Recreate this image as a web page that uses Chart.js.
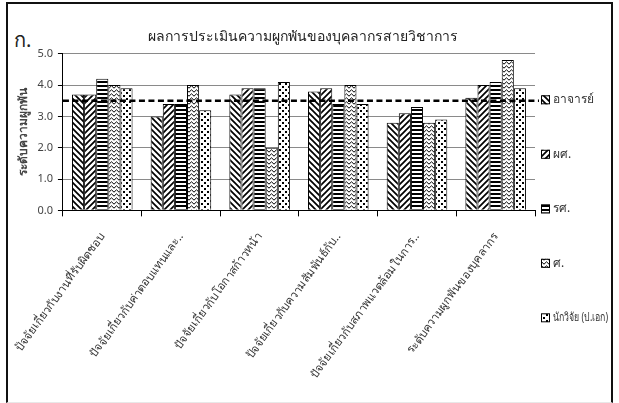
<!DOCTYPE html>
<html><head><meta charset="utf-8">
<script src="https://cdn.jsdelivr.net/npm/chart.js@4.4.0/dist/chart.umd.min.js"></script>
<style>
html,body{margin:0;padding:0;background:#fff;}
#frame{position:absolute;left:6px;top:2px;width:603px;height:398px;border-left:2px solid #111;border-top:2px solid #111;border-right:2px solid #111;border-bottom:1px solid #e8e8e8;}
#wrap{position:absolute;left:9px;top:5px;width:600px;height:394px;}
#letter{position:absolute;left:14px;top:24px;font:20px "Noto Sans",sans-serif;color:#222;}
</style></head>
<body>
<div id="frame"></div>
<div id="letter">ก.</div>
<div id="wrap"><canvas id="c"></canvas></div>
<script>
const chartTitle = 'ผลการประเมินความผูกพันของบุคลากรสายวิชาการ';
const yAxisTitle = 'ระดับความผูกพัน';
const categories = [
  'ปัจจัยเกี่ยวกับงานที่รับผิดชอบ',
  'ปัจจัยเกี่ยวกับค่าตอบแทนและ..',
  'ปัจจัยเกี่ยวกับโอกาสก้าวหน้า',
  'ปัจจัยเกี่ยวกับความสัมพันธ์กับ..',
  'ปัจจัยเกี่ยวกับสภาพแวดล้อมในการ..',
  'ระดับความผูกพันของบุคลากร'
];
const seriesNames = ['อาจารย์', 'ผศ.', 'รศ.', 'ศ.', 'นักวิจัย (ป.เอก)'];
const lecturer   = [3.7, 3.0, 3.7, 3.8, 2.8, 3.6];
const assistProf = [3.7, 3.4, 3.9, 3.9, 3.1, 4.0];
const assocProf  = [4.2, 3.4, 3.9, 3.4, 3.3, 4.1];
const professor  = [4.0, 4.0, 2.0, 4.0, 2.8, 4.8];
const researcher = [3.9, 3.2, 4.1, 3.4, 2.9, 3.9];
const averageLevel = 3.5;
const yMin = 0, yMax = 5, yStep = 1;

function makePattern(kind) {
  const c = document.createElement('canvas');
  let w = 6, h = 6;
  if (kind === 'horiz') { w = 4; h = 4; }
  if (kind === 'zigzag') { w = 5; h = 4; }
  c.width = w; c.height = h;
  const g = c.getContext('2d');
  g.fillStyle = '#fff'; g.fillRect(0, 0, w, h);
  g.strokeStyle = '#000'; g.fillStyle = '#000';
  if (kind === 'down' || kind === 'up') {
    g.lineWidth = 1.7;
    g.beginPath();
    const segs = [[-1,-1,w+1,h+1],[w-1,-1,w+1,1],[-1,h-1,1,h+1]];
    segs.forEach(s => {
      if (kind === 'down') { g.moveTo(s[0], s[1]); g.lineTo(s[2], s[3]); }
      else { g.moveTo(w - s[0], s[1]); g.lineTo(w - s[2], s[3]); }
    });
    g.stroke();
  } else if (kind === 'horiz') {
    g.fillRect(0, 0, w, 2);
  } else if (kind === 'zigzag') {
    g.lineWidth = 1;
    g.beginPath();
    g.moveTo(0, 3.2); g.lineTo(2.5, 0.8); g.lineTo(5, 3.2);
    g.stroke();
  } else if (kind === 'dots') {
    g.fillRect(0, 0, 2, 2);
    g.fillRect(3, 3, 2, 2);
  }
  return g.createPattern(c, 'repeat');
}

const patterns = ['down', 'up', 'horiz', 'zigzag', 'dots'].map(makePattern);
const seriesValues = [lecturer, assistProf, assocProf, professor, researcher];

const avgLine = {
  id: 'avgLine',
  afterDatasetsDraw(chart) {
    const { ctx, chartArea, scales } = chart;
    const y = scales.y.getPixelForValue(averageLevel);
    ctx.save();
    ctx.strokeStyle = '#000';
    ctx.lineWidth = 2.5;
    ctx.setLineDash([6, 3.5]);
    ctx.beginPath();
    ctx.moveTo(chartArea.left, y);
    ctx.lineTo(chartArea.right + 4, y);
    ctx.stroke();
    ctx.restore();
  }
};

const sideLegend = {
  id: 'sideLegend',
  afterDraw(chart) {
    const { ctx, chartArea, width } = chart;
    ctx.save();
    const x = chartArea.right + 6;
    chart.data.datasets.forEach((ds, i) => {
      const y = chartArea.top + 46 + i * 54.5;
      ctx.fillStyle = ds.backgroundColor;
      ctx.fillRect(x, y - 4.5, 9, 9);
      ctx.strokeStyle = '#000'; ctx.lineWidth = 1;
      ctx.strokeRect(x + 0.5, y - 4, 8, 8);
      ctx.fillStyle = '#333';
      ctx.font = '12px "Noto Sans", sans-serif';
      ctx.textBaseline = 'middle';
      ctx.textAlign = 'left';
      const tx = x + 12;
      const avail = width - tx - 1;
      const tw = ctx.measureText(ds.label).width;
      const sx = tw > avail ? avail / tw : 1;
      ctx.save();
      ctx.translate(tx, y);
      ctx.scale(sx, 1);
      ctx.fillText(ds.label, 0, 0);
      ctx.restore();
    });
    ctx.restore();
  }
};

new Chart(document.getElementById('c'), {
  type: 'bar',
  data: {
    labels: categories,
    datasets: seriesNames.map((name, i) => ({
      label: name,
      data: seriesValues[i],
      backgroundColor: patterns[i],
      borderColor: '#000',
      borderWidth: 1,
      categoryPercentage: 0.77,
      barPercentage: 1.0,
      yAxisID: 'y'
    }))
  },
  options: {
    responsive: true,
    maintainAspectRatio: false,
    animation: false,
    layout: { padding: { top: 8, left: 5, right: 18, bottom: 4 } },
    plugins: {
      legend: { display: false },
      tooltip: { enabled: false },
      title: {
        display: true,
        text: chartTitle,
        color: '#222',
        font: { size: 14, family: '"Noto Sans", sans-serif', weight: 'normal' },
        padding: { top: 16, bottom: 8 }
      }
    },
    scales: {
      x: {
        grid: { display: true, drawOnChartArea: false, offset: true, tickLength: 6, color: '#000', tickColor: '#000' },
        border: { color: '#000', width: 1 },
        ticks: {
          color: '#333',
          font: { size: 11.5, family: '"Noto Sans", sans-serif' },
          minRotation: 54, maxRotation: 54,
          autoSkip: false, padding: 14
        },
        afterFit(scale) { scale.paddingLeft = 0; }
      },
      y: {
        min: yMin, max: yMax,
        grid: { color: '#8a8a8a', tickColor: '#000', tickLength: 5, drawTicks: true },
        border: { color: '#000', width: 1 },
        ticks: {
          stepSize: yStep,
          color: '#444',
          font: { size: 11, family: '"Noto Sans", sans-serif' },
          padding: 5,
          callback: v => Number(v).toFixed(1)
        },
        title: {
          display: true, text: yAxisTitle, color: '#444',
          font: { size: 12, family: '"Noto Sans", sans-serif', weight: 'bold' },
          padding: { top: 2, bottom: 2 }
        }
      },
      legendSpace: {
        type: 'linear',
        position: 'right',
        display: true,
        grid: { display: false },
        border: { display: false },
        ticks: { display: false },
        afterFit(scale) { scale.width = 56; }
      }
    }
  },
  plugins: [avgLine, sideLegend]
});
</script>
</body></html>
